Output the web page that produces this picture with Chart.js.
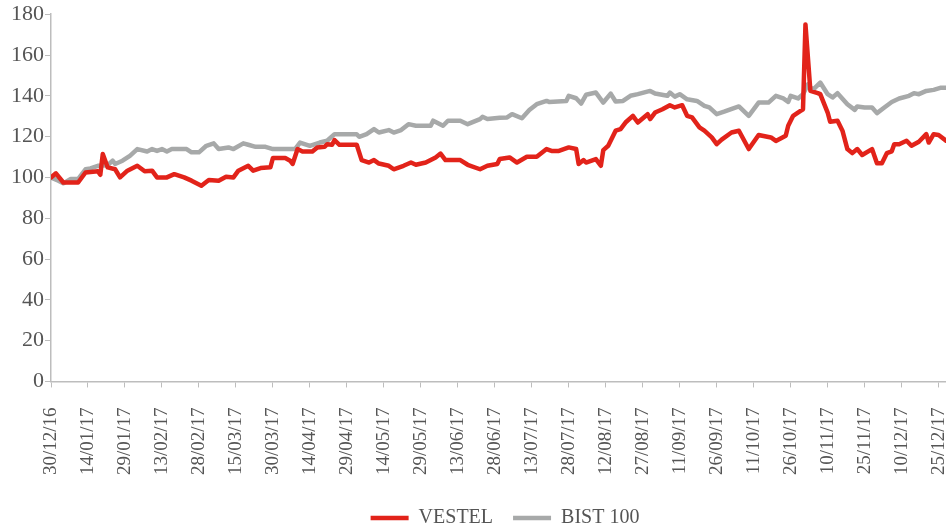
<!DOCTYPE html>
<html>
<head>
<meta charset="utf-8">
<script src="https://cdn.jsdelivr.net/npm/chart.js@4.4.0/dist/chart.umd.min.js"></script>
<style>
  html, body { margin: 0; padding: 0; background: #ffffff; }
  #wrap { width: 946px; height: 531px; }
</style>
</head>
<body>
<div id="wrap"><canvas id="perfChart"></canvas></div>
<script>
// --- colours ---
const palette = {
    red: "#E2231A",
    grey: "#A7A9A9",
    axis: "#BDBDBD",
    text: "#555555",
};

// --- data: days since 30/12/16, index level (30/12/16 = 100) ---
const seriesNames = ["VESTEL", "BIST 100"];

const vestelDays = [0, 2, 5, 11, 14, 19, 20, 21, 23, 26, 28, 31, 35, 38, 41, 43, 47, 50, 54, 57,
    61, 64, 68, 71, 74, 76, 80, 82, 85, 89, 90, 95, 97, 98, 100, 102, 106, 108, 111, 112,
    114, 115, 117, 124, 126, 129, 131, 133, 137, 139, 143, 146, 148, 152, 156, 158, 160, 166, 169, 174,
    177, 181, 182, 186, 189, 193, 197, 201, 203, 206, 210, 213, 214, 216, 217, 221, 223, 224, 226, 229,
    231, 233, 236, 238, 242, 243, 245, 248, 251, 253, 256, 258, 260, 263, 265, 268, 270, 272, 276, 279,
    283, 287, 292, 294, 298, 299, 301, 304, 305, 306, 308, 311, 312, 315, 316, 319, 321, 323, 325, 327,
    329, 333, 335, 337, 339, 341, 342, 344, 347, 349, 352, 355, 356, 358, 360, 363];
const vestelValues = [100, 102, 97.5, 97.5, 102.4, 103, 101.3, 111.5, 104.9, 104, 100, 103.3, 105.7, 103, 103.3, 100, 100, 101.6, 100, 98.4,
    95.9, 98.7, 98.4, 100.3, 100, 103.3, 105.7, 103.3, 104.6, 105, 109.5, 109.5, 108.2, 106.6, 113.9, 112.7, 112.7, 114.7, 115, 116.3,
    116, 118.3, 116, 116, 108.5, 107.3, 108.5, 106.8, 105.7, 104, 105.7, 107.3, 106.2, 107.3, 109.8, 111.7, 108.5, 108.5, 106.2, 104,
    105.7, 106.6, 109, 109.8, 107.3, 110.1, 110.1, 113.9, 113, 113, 114.7, 113.9, 106.6, 108.5, 107.3, 109, 105.7, 113.4, 115.5, 122.9,
    123.7, 126.9, 130.2, 126.9, 131, 128.6, 131.8, 133.4, 135.4, 134.3, 135.4, 130.2, 129.4, 124.5, 122.9, 119.6, 116.3, 118.5, 122, 122.9,
    113.9, 120.8, 119.6, 117.9, 120.4, 125.3, 130.2, 132.6, 133.4, 175, 142.4, 141.3, 140.8, 131.8, 127.3, 127.8, 122.9, 113.9, 111.9, 113.9,
    111, 113.9, 107, 107, 111.9, 112.8, 116.3, 116.3, 118, 115.5, 117.5, 121.2, 117.1, 121.2, 120.8, 118];

const bistDays = [0, 3, 5, 8, 11, 14, 16, 19, 23, 25, 26, 29, 32, 35, 39, 41, 43, 45, 47, 49,
    55, 57, 60, 63, 66, 68, 72, 74, 78, 80, 83, 87, 90, 99, 101, 105, 109, 112, 115, 124,
    125, 128, 131, 133, 137, 139, 142, 145, 148, 154, 155, 159, 161, 166, 169, 174, 175, 177, 182, 185,
    187, 191, 194, 197, 201, 202, 209, 210, 213, 215, 217, 221, 224, 227, 229, 232, 235, 238, 243, 245,
    250, 251, 253, 255, 258, 262, 265, 267, 270, 273, 275, 279, 283, 287, 291, 294, 297, 299, 300, 303,
    305, 307, 309, 312, 315, 317, 319, 323, 326, 327, 330, 333, 335, 338, 341, 344, 348, 350, 352, 355,
    358, 361, 363];
const bistValues = [100, 98.4, 97.1, 99.2, 99.2, 104, 104.4, 105.7, 106, 108.2, 106.6, 108.2, 110.6, 113.9, 112.7, 113.9, 113, 113.9, 112.7, 113.9,
    113.9, 112.3, 112.3, 115.5, 116.7, 113.9, 114.7, 113.9, 116.7, 116, 115, 115, 113.9, 113.9, 117.1, 115.5, 117.1, 118, 121.2, 121.2,
    119.9, 121.2, 123.7, 122, 123.2, 122, 123.2, 126.1, 125.3, 125.3, 127.8, 125.3, 127.8, 127.8, 126.1, 128.6, 129.7, 128.6, 129.2, 129.4,
    131, 129, 133, 135.9, 137.5, 137, 137.5, 140, 138.8, 136.2, 140.5, 141.6, 136.7, 141.1, 137.2, 137.5, 140, 140.8, 142.4, 141.1,
    140, 141.6, 139.6, 140.8, 138.3, 137.5, 135.1, 134.3, 131, 132.2, 133.1, 134.8, 130.2, 136.7, 136.7, 140, 138.7, 137, 140, 138.7,
    140.8, 145.6, 142.9, 146.5, 140.8, 139.2, 141.3, 135.9, 133.1, 134.8, 134.3, 134.3, 131.5, 134.3, 137, 138.7, 140, 141.3, 140.8, 142.4,
    142.9, 144, 144];

// x axis: a tick every 15 days, labelled dd/mm/yy
const startDate = Date.UTC(2016, 11, 30);
const lastDay = 363;
const tickStepDays = 15;

const pad2 = (n) => String(n).padStart(2, "0");
function dayLabel(d) {
    const dt = new Date(startDate + d * 86400000);
    return pad2(dt.getUTCDate()) + "/" + pad2(dt.getUTCMonth() + 1) + "/" + String(dt.getUTCFullYear()).slice(2);
}

const toPoints = (days, values) => days.map((d, i) => ({ x: d, y: values[i] }));

// nudge the legend a bit right, like the original
const legendShift = {
    id: "legendShift",
    afterLayout(chart) {
        const lg = chart.legend;
        if (!lg) return;
        lg.left += 27; lg.right += 27;
        lg.top -= 7; lg.bottom -= 7;
    },
};

const serif = "'Liberation Serif', 'Times New Roman', serif";

function createLineChart(ctx) {
    return new Chart(ctx, {
        type: "line",
        data: {
            datasets: [
                {
                    label: seriesNames[0],
                    data: toPoints(vestelDays, vestelValues),
                    borderColor: palette.red,
                    backgroundColor: palette.red,
                    borderWidth: 4.5,
                    borderCapStyle: "round",
                    borderJoinStyle: "round",
                    pointRadius: 0,
                    tension: 0,
                },
                {
                    label: seriesNames[1],
                    data: toPoints(bistDays, bistValues),
                    borderColor: palette.grey,
                    backgroundColor: palette.grey,
                    borderWidth: 4.5,
                    borderCapStyle: "round",
                    borderJoinStyle: "round",
                    pointRadius: 0,
                    tension: 0,
                },
            ],
        },
        options: {
            responsive: true,
            maintainAspectRatio: false,
            animation: false,
            layout: { padding: { top: 4, left: 10, right: 0, bottom: -14 } },
            plugins: {
                tooltip: { enabled: false },
                legend: {
                    position: "bottom",
                    labels: {
                        usePointStyle: true,
                        pointStyle: "line",
                        pointStyleWidth: 38,
                        padding: 20,
                        color: palette.text,
                        font: { family: serif, size: 20 },
                    },
                },
            },
            scales: {
                x: {
                    type: "linear",
                    min: 0,
                    max: lastDay,
                    // the plot runs to the right edge; the last label may be cut, as in the original
                    afterFit: (axis) => { axis.paddingRight = 0; },
                    border: { color: palette.axis, width: 1.5 },
                    grid: { drawOnChartArea: false, color: palette.axis, tickLength: 6, lineWidth: 1 },
                    ticks: {
                        stepSize: tickStepDays,
                        includeBounds: false,
                        autoSkip: false,
                        maxRotation: 90,
                        minRotation: 90,
                        padding: 20,
                        color: palette.text,
                        font: { family: serif, size: 19 },
                        callback: (v) => dayLabel(v),
                    },
                },
                y: {
                    min: 0,
                    max: 180,
                    border: { color: palette.axis, width: 1.5 },
                    grid: { drawOnChartArea: false, color: palette.axis, tickLength: 6, lineWidth: 1 },
                    ticks: {
                        stepSize: 20,
                        padding: 1,
                        color: palette.text,
                        font: { family: serif, size: 22 },
                    },
                },
            },
        },
        plugins: [legendShift],
    });
}

document.addEventListener("DOMContentLoaded", () => {
    createLineChart(document.getElementById("perfChart"));
});
</script>
</body>
</html>
